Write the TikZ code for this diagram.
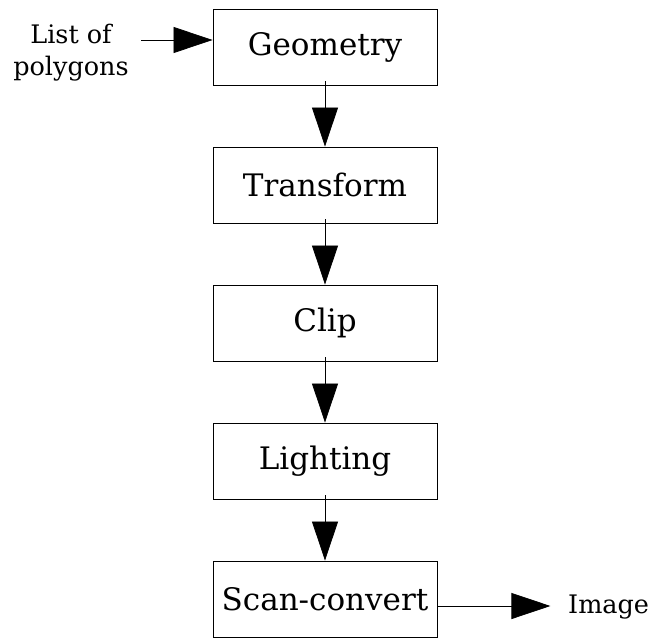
\documentclass[tikz,border=0pt]{standalone}
\usepackage{fontspec}
\setmainfont{DejaVu Serif}
\usetikzlibrary{arrows.meta}
\begin{document}
\begin{tikzpicture}[x=1pt,y=-1pt,
  stage/.style={draw, line width=0.9pt, minimum width=224pt, minimum height=76pt, inner sep=0pt, font=\fontsize{31}{36}\selectfont},
  lbl/.style={font=\fontsize{25.5}{32}\selectfont, align=center, inner sep=0pt},
  flow/.style={line width=0.8pt, -{Triangle[length=39pt,width=26pt]}}]
\useasboundingbox (0,0) rectangle (650,639);
\node[stage] (geo) at (325,47) {Geometry};
\node[stage] (tra) at (325,185) {Transform};
\node[stage] (cli) at (325,323) {Clip};
\node[stage] (lig) at (325,461) {Lighting};
\node[stage] (sca) at (325,599) {Scan-convert};
\node[lbl] (in) at (71,53) {List of\\polygons};
\node[lbl, anchor=west] (out) at (568,607) {Image};
\coordinate (inS) at (141,40);
\draw[flow] (inS) -- (geo.west |- inS);
\draw[flow] ([yshift=4pt]geo.south) -- (tra.north);
\draw[flow] ([yshift=4pt]tra.south) -- (cli.north);
\draw[flow] ([yshift=4pt]cli.south) -- (lig.north);
\draw[flow] ([yshift=4pt]lig.south) -- (sca.north);
\draw[flow] (sca.east |- 0,606) -- ++(113,0);
\end{tikzpicture}
\end{document}
